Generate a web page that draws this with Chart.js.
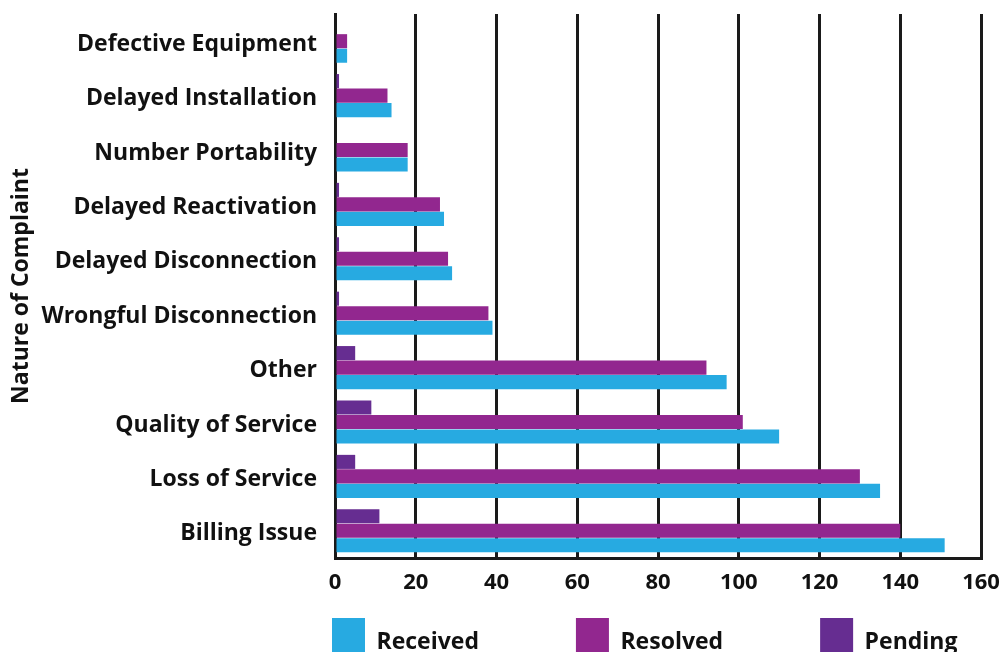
<!DOCTYPE html>
<html>
<head>
<meta charset="utf-8">
<title>Nature of Complaint</title>
<script src="https://cdn.jsdelivr.net/npm/chart.js@4/dist/chart.umd.min.js"></script>
<style>
  html, body { margin: 0; padding: 0; background: #ffffff; overflow: hidden; }
  canvas { display: block; }
</style>
</head>
<body>
<canvas id="complaints" width="1003" height="652"></canvas>
<script>
// Complaint categories, listed top to bottom
const categories = [
  'Defective Equipment',
  'Delayed Installation',
  'Number Portability',
  'Delayed Reactivation',
  'Delayed Disconnection',
  'Wrongful Disconnection',
  'Other',
  'Quality of Service',
  'Loss of Service',
  'Billing Issue'
];

// Complaint counts per category
const received = [3, 14, 18, 27, 29, 39, 97, 110, 135, 151];
const resolved = [3, 13, 18, 26, 28, 38, 92, 101, 130, 140];
const pending  = [0, 1, 0, 1, 1, 1, 5, 9, 5, 11];

// Value axis ticks
const xTicks = [0, 20, 40, 60, 80, 100, 120, 140, 160];

const FONT = "'Open Sans', 'Noto Sans', sans-serif";
const INK = '#111111';
const RULE = '#1a1a1a';

// Moves the legend row just under the value axis, starting at the plot's left edge
const legendPlacement = {
  id: 'legendPlacement',
  afterLayout(chart) {
    const lg = chart.legend;
    if (!lg) return;
    const pad = lg.options.labels.padding;
    const area = chart.chartArea;
    lg.left = area.left - 3 - pad;
    lg.top = area.bottom + 60 - pad;
    lg.right = lg.left + lg.width;
    lg.bottom = chart.height;
    lg.height = lg.bottom - lg.top;
  }
};

// Plot edges come from layout.padding alone, not from tick-label overhang
function noOverhang(scale) {
  scale.paddingTop = 0;
  scale.paddingBottom = 0;
  scale.paddingLeft = 0;
  scale.paddingRight = 0;
}

new Chart(document.getElementById('complaints'), {
  type: 'bar',
  data: {
    labels: categories,
    datasets: [
      { label: 'Pending',  data: pending,  backgroundColor: '#662D91' },
      { label: 'Resolved', data: resolved, backgroundColor: '#92278F' },
      { label: 'Received', data: received, backgroundColor: '#27AAE1' }
    ]
  },
  options: {
    indexAxis: 'y',
    responsive: false,
    animation: false,
    devicePixelRatio: 1,
    categoryPercentage: 0.8,
    barPercentage: 0.97,
    layout: { padding: { top: 14, right: 22, left: 0, bottom: 0 } },
    scales: {
      x: {
        min: 0,
        max: 160,
        afterBuildTicks(scale) {
          scale.ticks = xTicks.map(v => ({ value: v }));
        },
        afterFit(scale) { scale.height = 40; noOverhang(scale); },
        grid: { color: RULE, lineWidth: 3, drawTicks: false },
        border: { color: RULE, width: 3 },
        ticks: {
          color: INK,
          padding: 12,
          font: { family: FONT, size: 22, weight: 'bold' }
        }
      },
      y: {
        afterFit(scale) { scale.width = 335; noOverhang(scale); },
        grid: { display: false, drawTicks: false },
        border: { display: true, color: RULE, width: 3 },
        ticks: {
          color: INK,
          padding: 18,
          labelOffset: 3,
          font: { family: FONT, size: 23, weight: 'bold' }
        },
        title: {
          display: true,
          text: 'Nature of Complaint',
          color: INK,
          padding: { top: 8, bottom: 0 },
          font: { family: FONT, size: 23, weight: 'bold' }
        }
      }
    },
    plugins: {
      tooltip: { enabled: false },
      legend: {
        position: 'bottom',
        align: 'start',
        reverse: true,
        maxHeight: 54,
        labels: {
          color: INK,
          boxWidth: 33,
          boxHeight: 48,
          padding: 97,
          font: { family: FONT, size: 23, weight: 'bold' }
        }
      }
    }
  },
  plugins: [legendPlacement]
});
</script>
</body>
</html>
